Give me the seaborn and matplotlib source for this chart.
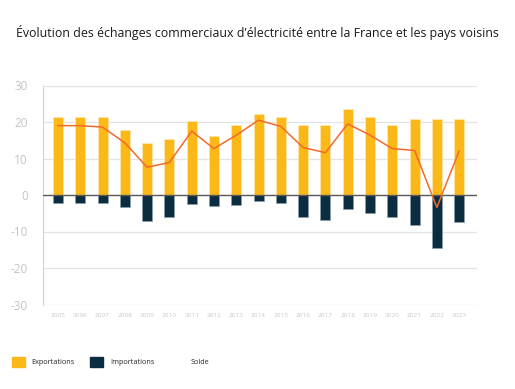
import matplotlib
matplotlib.use("Agg")
import matplotlib.pyplot as plt
import seaborn as sns
import pandas as pd
from matplotlib.patches import Patch
from matplotlib.lines import Line2D

years = [str(y) for y in range(2005, 2024)]
exportations = [21.4, 21.4, 21.4, 17.9, 14.3, 15.3, 20.2, 16.1, 19.1, 22.2,
                21.4, 19.1, 19.1, 23.5, 21.4, 19.1, 20.8, 20.8, 20.8]
importations = [-2.1, -2.1, -2.1, -3.3, -7.0, -6.0, -2.4, -3.0, -2.7, -1.6,
                -2.2, -5.9, -6.8, -3.7, -4.9, -5.9, -8.3, -14.5, -7.5]
solde = [19.0, 19.0, 18.6, 14.3, 7.6, 8.9, 17.5, 12.7, 16.4, 20.5,
         18.8, 13.0, 11.6, 19.5, 16.4, 12.7, 12.2, -3.4, 12.1]
yticks = [30, 20, 10, 0, -10, -20, -30]

YELLOW = "#fcb817"
NAVY = "#0b2d3f"
ORANGE = "#f26a2c"
GRID = "#e3e3e3"
TICK = "#c4c4c4"

sns.set_theme(style="white")
plt.rcParams['font.family'] = ['Open Sans', 'DejaVu Sans']

df = pd.DataFrame({"annee": years, "exp": exportations, "imp": importations, "solde": solde})

fig = plt.figure(figsize=(5.15, 3.89), dpi=100)
ax = fig.add_axes([43/515, 1-304.5/389, (477-43)/515, (304.5-85.5)/389])

sns.barplot(data=df, x="annee", y="exp", color=YELLOW, width=0.45, ax=ax,
            edgecolor="#fde7b0", linewidth=0.5, saturation=1, zorder=3)
sns.barplot(data=df, x="annee", y="imp", color=NAVY, width=0.45, ax=ax,
            edgecolor="#8aa0ab", linewidth=0.5, saturation=1, zorder=3)
sns.pointplot(data=df, x="annee", y="solde", color=ORANGE, markers="", linestyles="-",
              ax=ax, zorder=5)
for l in ax.lines:
    l.set_linewidth(1.1)

ax.axhline(0, color="#5a5a5a", linewidth=1.0, zorder=4)
ax.set_ylim(-30, 30)
ax.set_xlim(-0.67, 18.8)
ax.set_yticks(yticks)
ax.set_yticklabels([str(t) for t in yticks])
ax.yaxis.grid(True, color=GRID, linewidth=0.9, zorder=0)
ax.set_axisbelow(True)
for s in ["top", "right", "bottom"]:
    ax.spines[s].set_visible(False)
ax.spines["left"].set_color("#d6d6d6")
ax.spines["left"].set_linewidth(0.9)
ax.tick_params(axis="y", length=5, width=0.9, color=GRID, colors=TICK, labelsize=8.5, pad=6)
ax.tick_params(axis="y", labelcolor=TICK)
ax.tick_params(axis="x", length=0, labelsize=4.6, labelcolor="#c8c8c8", pad=6)
ax.set_xlabel("")
ax.set_ylabel("")

fig.text(16/515, 1-33/389, "Évolution des échanges commerciaux d’électricité entre la France et les pays voisins",
         fontsize=8.9, color="#1a1a1a", va="center", ha="left")

handles = [Patch(facecolor=YELLOW, edgecolor=YELLOW),
           Patch(facecolor=NAVY, edgecolor=NAVY),
           Line2D([], [], color="none")]
fig.legend(handles, ["Exportations", "Importations", "Solde"], loc="center left",
           bbox_to_anchor=(5/515, 1-362/389), ncol=3, frameon=False, fontsize=5.2,
           handlelength=1.8, handleheight=1.8, columnspacing=2.1, handletextpad=1.0,
           labelcolor="#222222")

fig.savefig("out.png", dpi=100)
